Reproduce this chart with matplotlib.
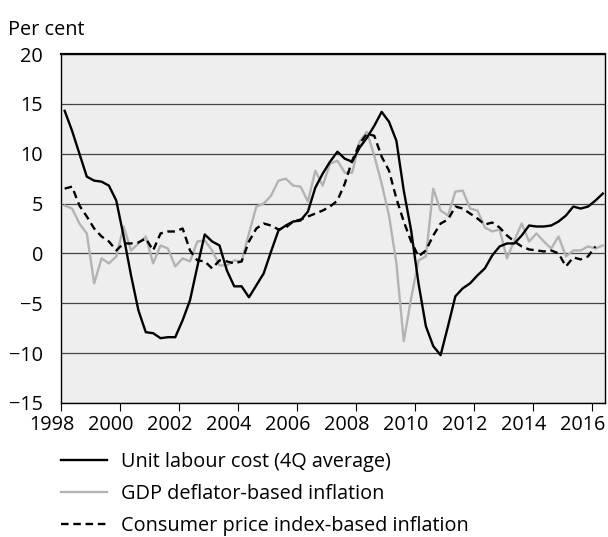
import matplotlib
matplotlib.use("Agg")
import matplotlib.pyplot as plt
import matplotlib.transforms as mtransforms
import numpy as np

plt.rcParams['font.family'] = ['Open Sans', 'DejaVu Sans']

# quarterly data, 1998Q1 - 2016Q2
quarters = 1998.125 + 0.25 * np.arange(74)

unit_labour_cost = [
    14.3, 12.3, 10.0, 7.7, 7.3, 7.2, 6.8, 5.3, 1.7, -2.2,
    -5.7, -7.9, -8.0, -8.5, -8.4, -8.4, -6.7, -4.7, -1.3, 1.9,
    1.2, 0.8, -1.7, -3.3, -3.3, -4.4, -3.2, -2.0, 0.2, 2.3,
    2.8, 3.2, 3.3, 4.2, 6.6, 8.0, 9.2, 10.2, 9.5, 9.2,
    10.6, 11.6, 12.8, 14.2, 13.2, 11.3, 6.3, 2.3, -3.0, -7.3,
    -9.3, -10.2, -7.3, -4.3, -3.5, -3.0, -2.2, -1.5, -0.2, 0.7,
    1.0, 1.0, 1.8, 2.8, 2.7, 2.7, 2.8, 3.2, 3.8, 4.7,
    4.5, 4.7, 5.3, 6.0,
]

gdp_deflator = [
    4.8, 4.5, 3.0, 2.0, -3.0, -0.5, -1.0, -0.3, 2.7, 0.3,
    1.0, 1.7, -1.0, 0.8, 0.5, -1.3, -0.5, -0.8, 1.2, 1.3,
    0.3, -1.2, -1.2, -0.7, -0.8, 2.0, 4.7, 5.0, 5.8, 7.3,
    7.5, 6.8, 6.7, 5.2, 8.3, 6.8, 9.0, 9.3, 8.1, 8.1,
    11.2, 12.2, 9.8, 7.0, 3.8, -1.0, -8.8, -4.5, -0.7, -0.3,
    6.5, 4.3, 3.8, 6.2, 6.3, 4.5, 4.3, 2.6, 2.2, 2.4,
    -0.5, 1.3, 3.0, 1.2, 2.0, 1.2, 0.5, 1.7, -0.3, 0.3,
    0.3, 0.7, 0.5, 0.8,
]

cpi = [
    6.5, 6.7, 4.8, 3.7, 2.5, 1.7, 1.2, 0.3, 1.0, 1.0,
    1.1, 1.5, 0.3, 2.0, 2.2, 2.2, 2.5, 0.3, -0.7, -0.8,
    -1.5, -0.7, -0.8, -1.0, -0.8, 1.2, 2.5, 3.0, 2.8, 2.4,
    2.6, 3.2, 3.4, 3.7, 4.0, 4.3, 4.7, 5.3, 7.0, 9.3,
    11.0, 12.0, 11.8, 9.7, 8.3, 5.5, 3.2, 1.2, -0.3, 0.3,
    1.8, 3.0, 3.4, 4.7, 4.5, 4.0, 3.5, 2.9, 3.1, 2.6,
    1.8, 1.2, 0.7, 0.4, 0.3, 0.2, 0.3, 0.0, -1.3, -0.4,
    -0.6, -0.3, 0.7, np.nan,
]

labels = ["Unit labour cost (4Q average)",
          "GDP deflator-based inflation",
          "Consumer price index-based inflation"]

fs = 14.3

fig = plt.figure(figsize=(6.08, 5.37), dpi=100)
ax = fig.add_axes([61 / 608, 1 - 403 / 537, 544 / 608, 349 / 537])
ax.set_facecolor("#eeeeee")

ax.plot(quarters, unit_labour_cost, color="black", lw=1.7, label=labels[0], zorder=4)
ax.plot(quarters, gdp_deflator, color="#b3b3b3", lw=1.7, label=labels[1], zorder=2)
ax.plot(quarters, cpi, color="black", lw=1.7, dashes=(3.2, 2), label=labels[2], zorder=3)

ax.set_xlim(1998, 2016.45)
ax.set_ylim(-15, 20)
ax.set_yticks(np.arange(-15, 21, 5))
ax.set_xticks(np.arange(1998, 2017, 2))
ax.grid(axis="y", color="#444444", lw=0.9)
ax.set_axisbelow(True)

ax.tick_params(axis="y", length=0, pad=13, labelsize=fs)
ax.tick_params(axis="x", length=6, width=0.8, direction="out", pad=3, labelsize=fs)
shift = mtransforms.ScaledTranslation(-9.5 / 100, 0, fig.dpi_scale_trans)
for lab in ax.get_xticklabels():
    lab.set_transform(lab.get_transform() + shift)

for s in ax.spines.values():
    s.set_linewidth(1.0)
ax.spines["top"].set_linewidth(1.6)

fig.text(8 / 608, 1 - 30 / 537, "Per cent", fontsize=fs, va="center", ha="left")

h, l = ax.get_legend_handles_labels()
fig.legend(h, l, loc="upper left", bbox_to_anchor=(61 / 608, 1 - 452 / 537),
           frameon=False, fontsize=fs, handlelength=2.3, handletextpad=0.7,
           labelspacing=0.6, borderpad=0, borderaxespad=0)

fig.savefig("out.png", dpi=100)
